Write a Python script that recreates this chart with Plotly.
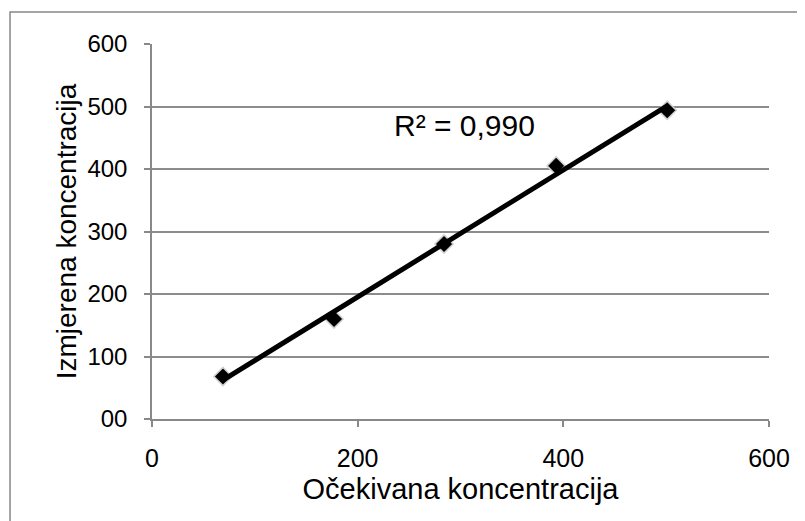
import numpy as np
import plotly.graph_objects as go

x_vals = [69, 177, 284, 393, 501]
y_vals = [68, 160, 280, 405, 494]
x_ticks = [0, 200, 400, 600]
y_ticks = [0, 100, 200, 300, 400, 500, 600]
y_tick_text = ["00", "100", "200", "300", "400", "500", "600"]
r2_label = "R² = 0,990"
x_title = "Očekivana koncentracija"
y_title = "Izmjerena koncentracija"

slope, intercept = np.polyfit(x_vals, y_vals, 1)
fit_x = [min(x_vals), max(x_vals)]
fit_y = [slope * v + intercept for v in fit_x]

fig = go.Figure()
fig.add_trace(go.Scatter(
    x=x_vals, y=y_vals, mode="markers",
    marker=dict(symbol="diamond", size=14, color="black",
                line=dict(color="#d0d0d0", width=1.5)),
    showlegend=False, hoverinfo="skip"))
fig.add_trace(go.Scatter(
    x=fit_x, y=fit_y, mode="lines",
    line=dict(color="black", width=5),
    showlegend=False, hoverinfo="skip"))

font = "Liberation Sans, Arial, sans-serif"
fig.update_layout(
    width=797, height=513,
    margin=dict(l=144, r=36, t=36, b=102),
    paper_bgcolor="white", plot_bgcolor="white",
    font=dict(family=font, color="black"),
    xaxis=dict(range=[0, 600], tickvals=x_ticks, ticks="outside", ticklen=6,
               tickcolor="#888888", tickwidth=1.5,
               showline=True, linecolor="#888888", linewidth=1.5,
               showgrid=False, zeroline=False, ticklabelstandoff=10,
               tickfont=dict(size=25, family=font),
               title=dict(text=x_title, font=dict(size=29, family=font), standoff=8)),
    yaxis=dict(range=[0, 600], tickvals=y_ticks, ticktext=y_tick_text,
               ticks="outside", ticklen=6, tickcolor="#888888", tickwidth=1.5,
               showline=True, linecolor="#888888", linewidth=1.5,
               showgrid=True, gridcolor="#8c8c8c", gridwidth=1.5,
               zeroline=False, ticklabelstandoff=12,
               tickfont=dict(size=24, family=font),
               title=dict(text=y_title, font=dict(size=28, family=font), standoff=3)),
    shapes=[dict(type="rect", xref="paper", yref="paper",
                 x0=-0.2301, x1=1.12, y0=-0.35, y1=1.0853,
                 line=dict(color="#888888", width=1.5), fillcolor="rgba(0,0,0,0)",
                 layer="below")],
    annotations=[dict(x=304, y=470, xref="x", yref="y", text=r2_label,
                      showarrow=False, font=dict(size=30, family=font, color="black"))],
)
fig.write_html("out.html")
